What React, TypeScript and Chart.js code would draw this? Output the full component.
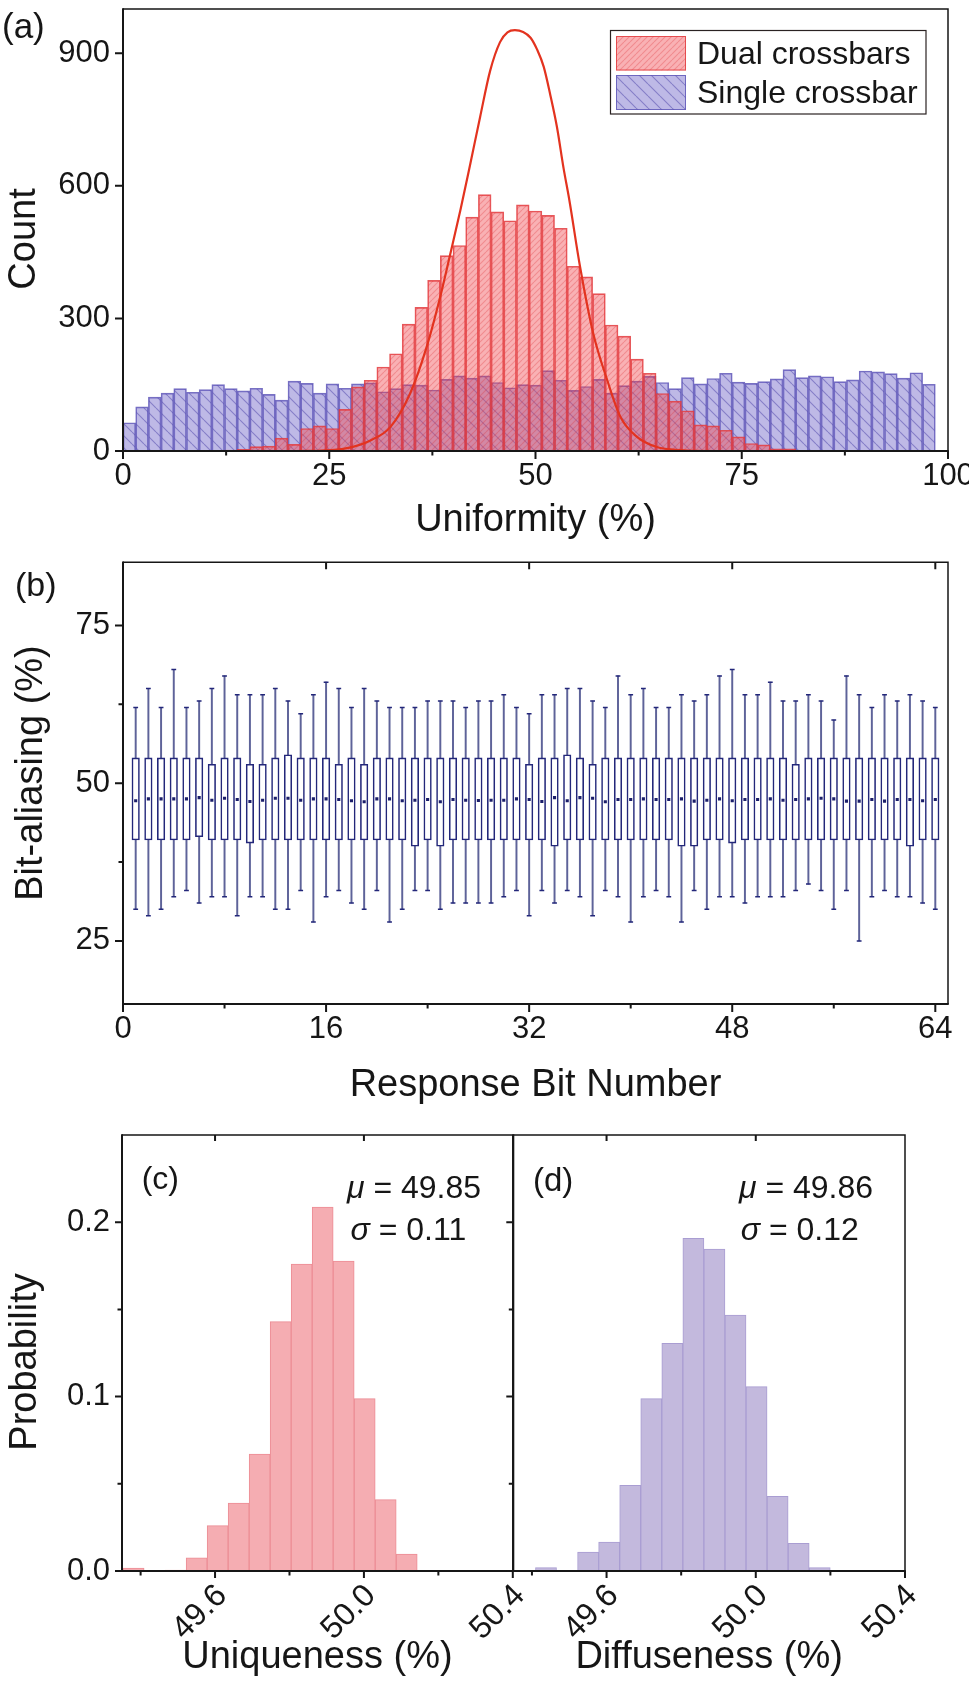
import React, { useEffect, useRef } from 'react';
import { Chart, registerables } from 'chart.js';

Chart.register(...registerables);

const FAMILY = '"Liberation Sans", Arial, Helvetica, sans-serif';
const INK = '#161616';

// ---------------- (a) Uniformity histogram ----------------
const A_BIN_WIDTH = 100 / 65;
const A_DUAL_COUNTS = [
  0, 0, 0, 0, 0, 0, 0, 1, 2, 4,
  10, 11, 29, 15, 51, 57, 51, 94, 145, 160,
  190, 220, 287, 325, 386, 442, 465, 529, 580, 541,
  521, 557, 543, 533, 504, 418, 394, 356, 285, 260,
  208, 176, 130, 113, 91, 59, 57, 47, 32, 17,
  14, 5, 5, 1, 0, 0, 0, 0, 0, 0,
  0, 0, 0, 0,
];
const A_SINGLE_COUNTS = [
  64, 100, 122, 131, 141, 133, 139, 150, 141, 136,
  142, 128, 115, 158, 153, 131, 152, 142, 152, 154,
  134, 141, 150, 149, 138, 162, 170, 165, 170, 155,
  143, 150, 149, 182, 160, 137, 146, 162, 131, 148,
  158, 169, 155, 141, 166, 152, 164, 176, 156, 153,
  157, 163, 184, 166, 170, 168, 157, 161, 181, 179,
  175, 165, 177, 151,
];
const A_FIT_X = [21, 24, 27, 30, 32.4, 34.8, 36.8, 38.4, 39.6, 40.9, 42.1, 43.3, 44.5, 45.7, 46.6, 47.5, 48.5, 49.4, 50.2, 51.0, 51.8, 52.6, 53.4, 54.1, 55.4, 57.0, 58.7, 60.3, 62.3, 64.7, 67.6, 72, 81];
const A_FIT_Y = [0, 1, 6, 24, 54, 130, 235, 345, 440, 545, 650, 757, 860, 925, 947, 952, 948, 935, 908, 869, 805, 733, 640, 568, 417, 266, 160, 77, 32, 9, 2, 0, 0];
const A_LABELS = ['Dual crossbars', 'Single crossbar'];
const A_X_TICKS = [0, 25, 50, 75, 100];
const A_X_MINOR = [12.5, 37.5, 62.5, 87.5];
const A_Y_TICKS = [0, 300, 600, 900];

// ---------------- (b) Bit-aliasing box plot ----------------
const B_BITS = Array.from({ length: 64 }, (_, i) => i + 1);
const B_MAX = [
  62, 65, 62, 68, 62, 63, 65, 67, 64, 64,
  64, 65, 63, 61, 64, 66, 65, 62, 65, 63,
  62, 62, 62, 63, 63, 63, 62, 63, 63, 64,
  62, 61, 64, 64, 65, 65, 63, 62, 67, 64,
  65, 62, 62, 64, 63, 64, 67, 68, 64, 64,
  66, 63, 63, 64, 63, 60, 67, 64, 62, 64,
  63, 64, 63, 62,
];
const B_MIN = [
  30, 29, 30, 32, 33, 31, 32, 32, 29, 32,
  32, 30, 30, 33, 28, 32, 33, 31, 30, 33,
  28, 30, 33, 33, 30, 31, 31, 31, 31, 32,
  33, 29, 33, 31, 33, 32, 29, 33, 32, 28,
  32, 33, 32, 28, 33, 30, 32, 32, 31, 32,
  32, 32, 33, 34, 33, 30, 33, 25, 32, 33,
  32, 32, 31, 30,
];
const B_Q1 = [
  41, 41, 41, 41, 41, 41.5, 41, 41, 41, 40.5,
  41, 41, 41, 41, 41, 41, 41, 41, 41, 41,
  41, 41, 40, 41, 40, 41, 41, 41, 41, 41,
  41, 41, 41, 40, 41, 41, 41, 41, 41, 41,
  41, 41, 41, 40, 40, 41, 41, 40.5, 41, 41,
  41, 41, 41, 41, 41, 41, 41, 41, 41, 41,
  41, 40, 41, 41,
];
const B_Q3 = [
  54, 54, 54, 54, 54, 54, 53, 54, 54, 53,
  53, 54, 54.5, 54, 54, 54, 53, 54, 53, 54,
  54, 54, 54, 54, 54, 54, 54, 54, 54, 54,
  54, 53, 54, 54, 54.5, 54, 53, 54, 54, 54,
  54, 54, 54, 54, 54, 54, 54, 54, 54, 54,
  54, 54, 53, 54, 54, 54, 54, 54, 54, 54,
  54, 54, 54, 54,
];
const B_MEAN = [
  47.2, 47.5, 47.5, 47.5, 47.5, 47.7, 47.3, 47.6, 47.4, 47.1,
  47.3, 47.6, 47.6, 47.3, 47.5, 47.5, 47.4, 47.2, 47.05, 47.5,
  47.5, 47.2, 47.3, 47.4, 47.05, 47.4, 47.3, 47.25, 47.3, 47.3,
  47.5, 47.4, 47.1, 47.7, 47.2, 47.7, 47.6, 47.05, 47.4, 47.4,
  47.5, 47.4, 47.4, 47.5, 47.15, 47.3, 47.5, 47.2, 47.4, 47.4,
  47.5, 47.3, 47.4, 47.5, 47.6, 47.5, 47.15, 47.15, 47.4, 47.15,
  47.4, 47.4, 47.2, 47.4,
];
const B_X_TICKS = [0, 16, 32, 48, 64];
const B_X_MINOR = [8, 24, 40, 56];
const B_Y_TICKS = [25, 50, 75];
const B_Y_MINOR = [37.5, 62.5];

// ---------------- (c) / (d) probability histograms ----------------
const CD_BIN_START = 49.353;
const CD_BIN_WIDTH = 0.05644;
const C_PROB = [0.0017, 0, 0.0005, 0.0076, 0.026, 0.0389, 0.067, 0.143, 0.176, 0.2086, 0.1777, 0.0988, 0.0409, 0.0097, 0.0004];
const D_PROB = [0, 0.0019, 0, 0.0108, 0.0166, 0.0491, 0.0988, 0.1306, 0.1907, 0.1846, 0.1468, 0.1057, 0.0428, 0.0158, 0.0019];
const CD_X_TICKS = [49.6, 50.0, 50.4];
const CD_X_MINOR = [49.4, 49.8, 50.2];
const CD_Y_TICKS = [0, 0.1, 0.2];
const CD_Y_MINOR = [0.05, 0.15];

// ---------------- helpers ----------------
const TICK_SIZE = 31;
const TITLE_SIZE = 38;
const fnt = (size: number) => ({ family: FAMILY, size });
const zeroPad = (s: any) => {
  s.paddingLeft = 0; s.paddingRight = 0; s.paddingTop = 0; s.paddingBottom = 0;
};
const fitH = (h: number) => (s: any) => { s.height = h; zeroPad(s); };
const fitW = (w: number) => (s: any) => { s.width = w; zeroPad(s); };
const fixedTicks = (vals: number[]) => (s: any) => { s.ticks = vals.map((v) => ({ value: v })); };
const NO_GRID = { display: false, drawTicks: false, tickLength: 0 };

function hatch(size: number, fill: string, stroke: string, lw: number, dir: number) {
  const c = document.createElement('canvas');
  c.width = size; c.height = size;
  const g = c.getContext('2d') as CanvasRenderingContext2D;
  g.fillStyle = fill;
  g.fillRect(0, 0, size, size);
  g.strokeStyle = stroke;
  g.lineWidth = lw;
  g.beginPath();
  for (const o of [-size, 0, size]) {
    if (dir > 0) { g.moveTo(o, size); g.lineTo(o + size, 0); }
    else { g.moveTo(o, 0); g.lineTo(o + size, size); }
  }
  g.stroke();
  return g.createPattern(c, 'repeat');
}

type TickSpec = { values: number[]; len: number; out: boolean };
const decorPlugin = {
  id: 'decor',
  afterDraw(chart: any, _args: any, opts: any) {
    const { ctx, chartArea: ca, scales } = chart;
    const xs = scales.x, ys = scales.y;
    ctx.save();
    ctx.strokeStyle = INK;
    ctx.lineCap = 'butt';
    ctx.lineWidth = 1.5;
    ctx.beginPath();
    ctx.moveTo(ca.left, ca.top); ctx.lineTo(ca.right, ca.top); ctx.lineTo(ca.right, ca.bottom);
    ctx.stroke();
    ctx.lineWidth = 2;
    ctx.beginPath();
    ctx.moveTo(ca.left, ca.top - 0.75); ctx.lineTo(ca.left, ca.bottom); ctx.lineTo(ca.right + 0.75, ca.bottom);
    ctx.stroke();
    ctx.beginPath();
    ((opts.bottom || []) as TickSpec[]).forEach((s) => s.values.forEach((v) => {
      const p = xs.getPixelForValue(v);
      ctx.moveTo(p, ca.bottom); ctx.lineTo(p, ca.bottom + (s.out ? s.len : -s.len));
    }));
    ((opts.top || []) as TickSpec[]).forEach((s) => s.values.forEach((v) => {
      const p = xs.getPixelForValue(v);
      ctx.moveTo(p, ca.top); ctx.lineTo(p, ca.top + (s.out ? -s.len : s.len));
    }));
    ((opts.left || []) as TickSpec[]).forEach((s) => s.values.forEach((v) => {
      const p = ys.getPixelForValue(v);
      ctx.moveTo(ca.left, p); ctx.lineTo(ca.left + (s.out ? -s.len : s.len), p);
    }));
    ctx.stroke();

    if (opts.legend) {
      const L = opts.legend;
      ctx.fillStyle = '#ffffff';
      ctx.fillRect(L.x, L.y, L.w, L.h);
      ctx.lineWidth = 1.2;
      ctx.strokeStyle = '#2a2222';
      ctx.strokeRect(L.x, L.y, L.w, L.h);
      L.items.forEach((it: any) => {
        ctx.fillStyle = it.fill;
        ctx.fillRect(it.sx, it.sy, it.sw, it.sh);
        ctx.strokeStyle = it.border;
        ctx.lineWidth = 1;
        ctx.strokeRect(it.sx + 0.5, it.sy + 0.5, it.sw - 1, it.sh - 1);
        ctx.fillStyle = INK;
        ctx.font = `${L.size}px ${FAMILY}`;
        ctx.textAlign = 'left';
        ctx.textBaseline = 'alphabetic';
        ctx.fillText(it.label, it.tx, it.ty);
      });
    }

    if (opts.yTitle) {
      const T = opts.yTitle;
      ctx.save();
      ctx.translate(T.x, T.y);
      ctx.rotate(-Math.PI / 2);
      ctx.font = `${T.size}px ${FAMILY}`;
      ctx.fillStyle = INK;
      ctx.textAlign = 'center';
      ctx.textBaseline = 'middle';
      ctx.fillText(T.text, 0, 0);
      ctx.restore();
    }

    (opts.texts || []).forEach((t: any) => {
      let x = t.x;
      t.parts.forEach((p: any) => {
        ctx.font = `${p.italic ? 'italic ' : ''}${t.size}px ${FAMILY}`;
        ctx.fillStyle = INK;
        ctx.textAlign = 'left';
        ctx.textBaseline = 'alphabetic';
        ctx.fillText(p.t, x, t.y);
        x += ctx.measureText(p.t).width;
      });
    });
    ctx.restore();
  },
};

function baseOptions(padding: any, scales: any, decor: any) {
  return {
    responsive: false,
    maintainAspectRatio: false,
    animation: false,
    devicePixelRatio: 1,
    events: [],
    layout: { padding, autoPadding: false },
    plugins: { legend: { display: false }, tooltip: { enabled: false }, decor },
    scales,
  };
}

// ---------------- chart builders ----------------
function buildA() {
  const red = hatch(6, 'rgba(240,70,76,0.42)', 'rgba(214,40,48,0.28)', 1.1, 1);
  const blue = hatch(12, 'rgba(106,96,198,0.44)', 'rgba(78,70,172,0.5)', 1.1, -1);
  const redBorder = 'rgba(226,60,62,0.85)';
  const blueBorder = 'rgba(96,88,184,0.85)';
  return {
    type: 'bar',
    data: {
      datasets: [
        {
          type: 'line', label: 'fit',
          data: A_FIT_X.map((x, i) => ({ x, y: A_FIT_Y[i] })),
          borderColor: '#E3331F', borderWidth: 2.2, pointRadius: 0,
          cubicInterpolationMode: 'monotone', fill: false, order: 0,
        },
        {
          label: A_LABELS[0],
          data: A_DUAL_COUNTS.map((y, i) => ({ x: (i + 0.5) * A_BIN_WIDTH, y })),
          backgroundColor: red, borderColor: redBorder, borderWidth: 1,
          grouped: false, barPercentage: 1, categoryPercentage: 1, order: 1,
        },
        {
          label: A_LABELS[1],
          data: A_SINGLE_COUNTS.map((y, i) => ({ x: (i + 0.5) * A_BIN_WIDTH, y })),
          backgroundColor: blue, borderColor: blueBorder, borderWidth: 1,
          grouped: false, barPercentage: 1, categoryPercentage: 1, order: 2,
        },
      ],
    },
    options: baseOptions(
      { left: 0, right: 21, top: 9, bottom: 0 },
      {
        x: {
          type: 'linear', min: 0, max: 100, offset: false,
          afterBuildTicks: fixedTicks(A_X_TICKS), afterFit: fitH(94),
          grid: NO_GRID, border: { display: false },
          ticks: { font: fnt(TICK_SIZE), color: INK, padding: 6.5, maxRotation: 0, minRotation: 0, autoSkip: false },
          title: { display: true, text: 'Uniformity (%)', font: fnt(TITLE_SIZE), color: INK, padding: { top: 0, bottom: 1.2 } },
        },
        y: {
          type: 'linear', min: 0, max: 1000,
          afterBuildTicks: fixedTicks(A_Y_TICKS), afterFit: fitW(123),
          grid: NO_GRID, border: { display: false },
          ticks: { font: fnt(TICK_SIZE), color: INK, padding: 13, autoSkip: false },
          title: { display: false },
        },
      },
      {
        bottom: [{ values: A_X_TICKS, len: 8, out: true }, { values: A_X_MINOR, len: 4.5, out: true }],
        left: [{ values: A_Y_TICKS, len: 8, out: true }],
        yTitle: { text: 'Count', x: 25, y: 239, size: TITLE_SIZE },
        legend: {
          x: 610.5, y: 30.5, w: 315.5, h: 83.5, size: 32,
          items: [
            { label: A_LABELS[0], fill: red, border: redBorder, sx: 616, sy: 36, sw: 70, sh: 34.5, tx: 697, ty: 64 },
            { label: A_LABELS[1], fill: blue, border: blueBorder, sx: 616, sy: 75, sw: 70, sh: 35, tx: 697, ty: 102.5 },
          ],
        },
        texts: [{ x: 2, y: 38, size: 35, parts: [{ t: '(a)' }] }],
      },
    ),
    plugins: [decorPlugin],
  };
}

function buildB() {
  const navy = '#23277A';
  return {
    type: 'bar',
    data: {
      datasets: [
        {
          label: 'whisker', data: B_BITS.map((x, i) => ({ x, y: [B_MIN[i], B_MAX[i]] })),
          backgroundColor: '#5E6399', borderWidth: 0, barThickness: 1.3, grouped: false, order: 4,
        },
        {
          label: 'box', data: B_BITS.map((x, i) => ({ x, y: [B_Q1[i], B_Q3[i]] })),
          backgroundColor: '#ffffff', borderColor: navy, borderWidth: 1.6, borderSkipped: false,
          barThickness: 7.5, grouped: false, order: 3,
        },
        {
          type: 'scatter', label: 'max', data: B_BITS.map((x, i) => ({ x, y: B_MAX[i] })),
          pointStyle: 'line', pointRadius: 2.4, pointBorderColor: navy, pointBorderWidth: 1.5, order: 2,
        },
        {
          type: 'scatter', label: 'min', data: B_BITS.map((x, i) => ({ x, y: B_MIN[i] })),
          pointStyle: 'line', pointRadius: 2.4, pointBorderColor: navy, pointBorderWidth: 1.5, order: 2,
        },
        {
          type: 'scatter', label: 'mean', data: B_BITS.map((x, i) => ({ x, y: B_MEAN[i] })),
          pointStyle: 'rect', pointRadius: 2.2, pointBackgroundColor: '#1B1E6A', pointBorderWidth: 0, order: 1,
        },
      ],
    },
    options: baseOptions(
      { left: 0, right: 21, top: 27.3, bottom: 0 },
      {
        x: {
          type: 'linear', min: 0, max: 65, offset: false,
          afterBuildTicks: fixedTicks(B_X_TICKS), afterFit: fitH(111),
          grid: NO_GRID, border: { display: false },
          ticks: { font: fnt(TICK_SIZE), color: INK, padding: 6.5, maxRotation: 0, minRotation: 0, autoSkip: false },
          title: { display: true, text: 'Response Bit Number', font: fnt(TITLE_SIZE), color: INK, padding: { top: 0, bottom: 6.3 } },
        },
        y: {
          type: 'linear', min: 15, max: 85,
          afterBuildTicks: fixedTicks(B_Y_TICKS), afterFit: fitW(123),
          grid: NO_GRID, border: { display: false },
          ticks: { font: fnt(TICK_SIZE), color: INK, padding: 13, autoSkip: false },
          title: { display: false },
        },
      },
      {
        bottom: [{ values: B_X_TICKS, len: 8, out: true }, { values: B_X_MINOR, len: 4.5, out: true }],
        top: [{ values: B_X_TICKS.slice(1), len: 7, out: false }],
        left: [{ values: B_Y_TICKS, len: 8, out: true }, { values: B_Y_MINOR, len: 4.5, out: true }],
        yTitle: { text: 'Bit-aliasing (%)', x: 31.5, y: 773 - 535, size: TITLE_SIZE },
        texts: [{ x: 15, y: 61, size: 34, parts: [{ t: '(b)' }] }],
      },
    ),
    plugins: [decorPlugin],
  };
}

function buildCD(which: 'c' | 'd') {
  const isC = which === 'c';
  const probs = isC ? C_PROB : D_PROB;
  const fill = isC ? '#F5ADB2' : '#C3B9DD';
  const edge = isC ? '#EC8D95' : '#A99DD2';
  const stats = isC ? ['49.85', '0.11'] : ['49.86', '0.12'];
  const tx = isC ? { lab: 141.7, mu: 347, sg: 350.5 } : { lab: 93, mu: 299, sg: 300.7 };
  return {
    type: 'bar',
    data: {
      datasets: [
        {
          label: isC ? 'Uniqueness' : 'Diffuseness',
          data: probs.map((y, k) => ({ x: CD_BIN_START + (k + 0.5) * CD_BIN_WIDTH, y })),
          backgroundColor: fill, borderColor: edge, borderWidth: 1,
          grouped: false, barPercentage: 1, categoryPercentage: 1,
        },
      ],
    },
    options: baseOptions(
      isC ? { left: 0, right: 456.2, top: 25, bottom: 0 } : { left: 0, right: 64, top: 25, bottom: 0 },
      {
        x: {
          type: 'linear', min: 49.35, max: 50.4, offset: false,
          afterBuildTicks: fixedTicks(CD_X_TICKS), afterFit: fitH(117),
          grid: NO_GRID, border: { display: false },
          ticks: {
            font: fnt(32), color: INK, padding: 6, labelOffset: 7,
            maxRotation: 45, minRotation: 45, autoSkip: false,
            callback: (v: any) => Number(v).toFixed(1),
          },
          title: {
            display: true, text: isC ? 'Uniqueness (%)' : 'Diffuseness (%)', font: fnt(TITLE_SIZE), color: INK,
            padding: { top: 0, bottom: 7.2 },
          },
        },
        y: {
          type: 'linear', min: 0, max: 0.25,
          afterBuildTicks: fixedTicks(CD_Y_TICKS), afterFit: fitW(isC ? 122 : 73.3),
          grid: NO_GRID, border: { display: false },
          ticks: {
            display: isC, font: fnt(TICK_SIZE), color: INK, padding: 12, autoSkip: false,
            callback: (v: any) => Number(v).toFixed(1),
          },
          title: { display: false },
        },
      },
      {
        bottom: [{ values: CD_X_TICKS, len: 7, out: true }, { values: CD_X_MINOR, len: 4.5, out: true }],
        top: [{ values: [49.6, 50.0], len: 6, out: false }],
        left: [{ values: CD_Y_TICKS, len: 7, out: true }, { values: CD_Y_MINOR, len: 4.5, out: true }],
        yTitle: isC ? { text: 'Probability', x: 26, y: 1362 - 1110, size: TITLE_SIZE } : undefined,
        texts: [
          { x: tx.lab, y: isC ? 79 : 81, size: isC ? 32 : 33, parts: [{ t: isC ? '(c)' : '(d)' }] },
          { x: tx.mu, y: 88, size: 32, parts: [{ t: 'μ', italic: true }, { t: ' = ' + stats[0] }] },
          { x: tx.sg, y: 130, size: 32, parts: [{ t: 'σ', italic: true }, { t: ' = ' + stats[1] }] },
        ],
      },
    ),
    plugins: [decorPlugin],
  };
}

function ChartCanvas(props: { left: number; top: number; width: number; height: number; build: () => any }) {
  const ref = useRef<HTMLCanvasElement | null>(null);
  useEffect(() => {
    const chart = new Chart(ref.current as HTMLCanvasElement, props.build());
    return () => chart.destroy();
  }, []);
  return (
    <canvas
      ref={ref}
      width={props.width}
      height={props.height}
      style={{ position: 'absolute', left: props.left, top: props.top, width: props.width, height: props.height, display: 'block' }}
    />
  );
}

export default function App() {
  return (
    <div style={{ position: 'absolute', left: 0, top: 0, width: 969, height: 1688, overflow: 'hidden', background: '#ffffff' }}>
      <ChartCanvas left={0} top={0} width={969} height={545} build={buildA} />
      <ChartCanvas left={0} top={535} width={969} height={580} build={buildB} />
      <ChartCanvas left={0} top={1110} width={969} height={578} build={() => buildCD('c')} />
      <ChartCanvas left={440} top={1110} width={529} height={578} build={() => buildCD('d')} />
    </div>
  );
}
